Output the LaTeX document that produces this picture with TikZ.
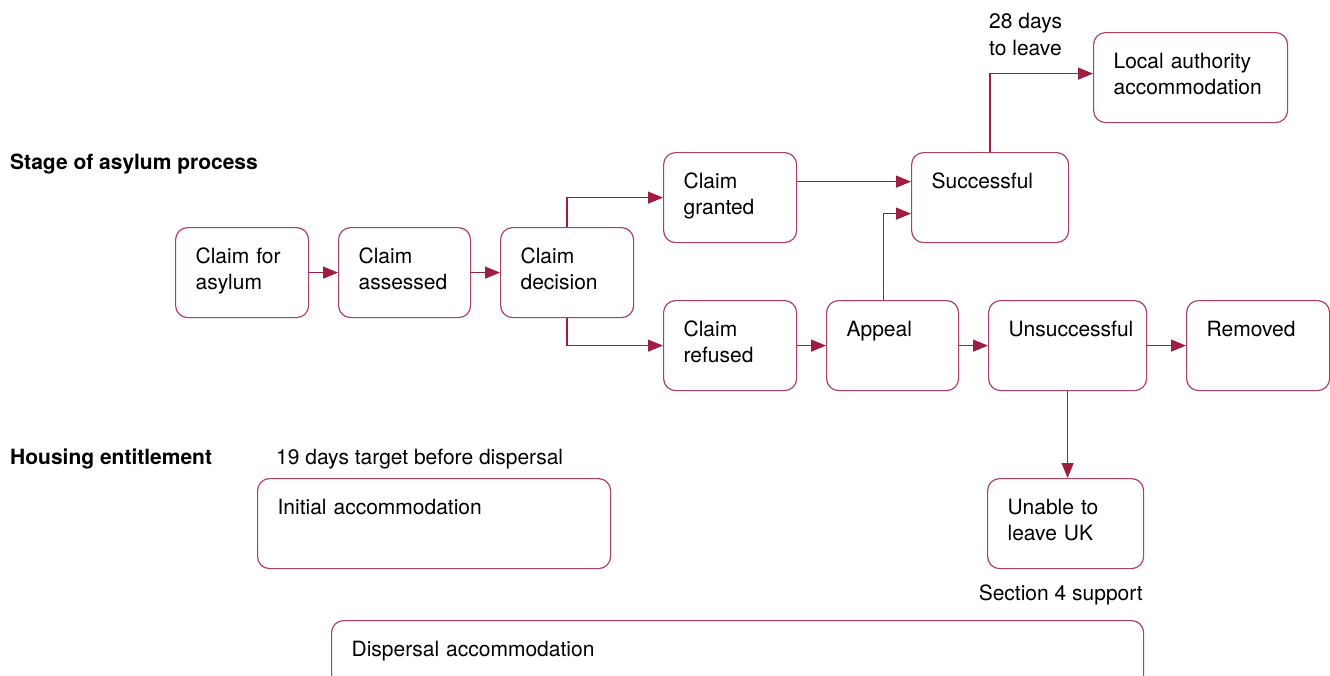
\documentclass[tikz,border=0pt]{standalone}
\usepackage{fontspec}
\setmainfont{TeX Gyre Heros}
\usetikzlibrary{arrows.meta}
\definecolor{boxred}{RGB}{176,64,96}
\definecolor{linered}{RGB}{158,30,66}
\hyphenpenalty=10000

\begin{document}
\begin{tikzpicture}[x=1pt, y=-1pt,
  stagebox/.style={draw=boxred, line width=1.2pt, rounded corners=12pt, anchor=north west,
    inner xsep=20pt, inner ysep=19.5pt, text height=16pt, text depth=35pt,
    align=left, text width=#1, font=\fontsize{21}{26}\selectfont},
  flow/.style={draw=linered, line width=1.3pt, -{Triangle[length=15pt,width=12pt]}},
  note/.style={inner sep=0pt, align=left, font=\fontsize{21}{27}\selectfont},
  heading/.style={anchor=base west, inner sep=0pt, font=\fontsize{21}{25}\selectfont\bfseries}]
				\useasboundingbox (0,0) rectangle (1330,675);
				
				\node[heading] (stagelbl) at (10,169) {Stage of asylum process};
				\node[heading] (housinglbl) at (10,464) {Housing entitlement};
				
				\node[stagebox=93pt] (asylum) at (175,227) {Claim for\\asylum};
				\node[stagebox=92pt] (assessed) at (338,227) {Claim\\assessed};
				\node[stagebox=93pt] (decision) at (500,227) {Claim\\decision};
				\node[stagebox=93pt] (granted) at (663,152) {Claim\\granted};
				\node[stagebox=93pt] (refused) at (663,300) {Claim\\refused};
				\node[stagebox=92pt] (appeal) at (826,300) {Appeal};
				\node[stagebox=117pt] (successful) at (911,152) {Successful};
				\node[stagebox=118pt] (unsuccessful) at (988,300) {Unsuccessful};
				\node[stagebox=103pt] (removed) at (1186,300) {Removed};
				\node[stagebox=154pt] (localauth) at (1093,32) {Local authority\\accommodation};
				\node[stagebox=116pt] (unable) at (987,478) {Unable to\\leave UK};
				\node[stagebox=313pt] (initial) at (257,478) {Initial accommodation};
				\node[stagebox=772pt] (dispersal) at (331,620) {Dispersal accommodation};
				
				\node[note, anchor=base west] (leavelbl) at (989,55) {28 days\\to leave};
				\node[note, anchor=base west] (targetlbl) at (276,464) {19 days target before dispersal};
				\node[note, anchor=base east] (sectionlbl) at (1143,600) {Section 4 support};
				
				\draw[flow] (asylum) -- (assessed);
				\draw[flow] (assessed) -- (decision);
				\draw[flow] (decision.north) |- (granted);
				\draw[flow] (decision.south) |- (refused);
				\draw[flow] ([yshift=16pt]granted.east) -- ([yshift=16pt]successful.west);
				\draw[flow] ([xshift=-9pt]appeal.north) |- ([yshift=-16pt]successful.west);
				\draw[flow] (refused) -- (appeal);
				\draw[flow] (appeal) -- (unsuccessful);
				\draw[flow] (unsuccessful) -- (removed);
				\draw[flow] (successful.north) |- ([yshift=4pt]localauth.west);
				\draw[flow] (unsuccessful.south) -- (unsuccessful.south |- unable.north);
			\end{tikzpicture}
\end{document}
